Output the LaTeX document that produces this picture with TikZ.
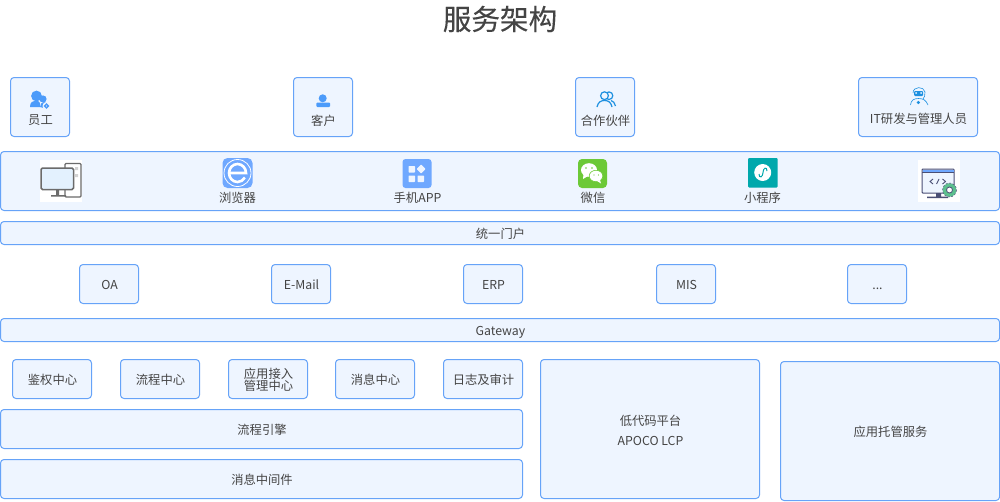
\documentclass[tikz,border=0pt]{standalone}
\usepackage{fontspec}
\setmainfont{Noto Sans CJK SC}
\newfontfamily\titlefont[FakeBold=0.25]{Noto Sans CJK SC}
\usetikzlibrary{positioning}

\definecolor{boxline}{HTML}{66A3F8}
\definecolor{boxfill}{HTML}{EEF5FF}
\definecolor{txt}{HTML}{444444}
\definecolor{iconblue}{HTML}{4C9BFA}
\definecolor{skyblue}{HTML}{1E90E0}
\definecolor{softblue}{HTML}{6FA8FF}
\definecolor{wechat}{HTML}{6CC937}
\definecolor{miniapp}{HTML}{00A8AC}
\definecolor{pcgray}{HTML}{6B6B6B}
\definecolor{pcscreen}{HTML}{E3F1FE}
\definecolor{devline}{HTML}{4A4F75}
\definecolor{devgear}{HTML}{5CBF8E}

\tikzset{
  box/.style={draw=boxline,fill=boxfill,rounded corners=3.5pt,line width=1pt,
    text=txt,font=\fontsize{12.3}{13}\selectfont,inner sep=0pt,outer sep=0pt,
    text height=11.4pt,text depth=0pt,execute at begin node=\hspace*{1pt}},
  user/.style={box,minimum width=59pt,minimum height=59pt},
  sys/.style={box,minimum width=59pt,minimum height=39pt},
  center/.style={box,minimum width=79pt,minimum height=39pt},
  bar/.style={box,minimum width=999pt,minimum height=23pt},
  lbl/.style={text=txt,font=\fontsize{12.3}{13}\selectfont,inner sep=0pt,align=center},
}

\begin{document}
\begin{tikzpicture}[x=1pt,y=-1pt,node distance=132pt]
    \useasboundingbox (0,0) rectangle (1000,501);

    \node[font=\fontsize{28.6}{30}\titlefont,text=txt,inner sep=0pt] (title) at (500,19) {服务架构};

    % users
    \node[user] (staff)   at (40,107)  {};
    \node[user] (client)  at (323,107) {};
    \node[user] (partner) at (605,107) {};
    \node[user,minimum width=119pt] (itstaff) at (918,107) {};
    \node[lbl] (stafftxt)   at (40.5,120.5)  {员工};
    \node[lbl] (clienttxt)  at (323.5,120.5) {客户};
    \node[lbl] (partnertxt) at (605.5,120.5) {合作伙伴};
    \node[lbl] (ittxt)      at (918.5,118.5) {IT研发与管理人员};

    % terminals
    \node[bar,minimum height=59pt] (terminal) at (500,181) {};
    \node[lbl] (browser) at (237.5,197.5) {浏览器};
    \node[lbl] (mobile)  at (417.5,197.5) {手机APP};
    \node[lbl] (weixin)  at (593,197.5) {微信};
    \node[lbl] (mini)    at (762.5,197.5) {小程序};

    \node[bar] (portal) at (500,233) {统一门户};

    % systems
    \node[sys] (oa)   at (109,284) {OA};
    \node[sys] (mail) at (301,284) {E-Mail};
    \node[sys] (erp)  at (493,284) {ERP};
    \node[sys] (mis)  at (686,284) {MIS};
    \node[sys] (more) at (877,284) {...};

    \node[bar] (gateway) at (500,330) {Gateway};

    % centers
    \node[center] (auth) at (52,379) {鉴权中心};
    \node[center] (flow) at (160,379) {流程中心};
    \node[center] (access) at (268,379) {};
    \node[lbl,font=\fontsize{12.3}{12}\selectfont] (accesstxt) at (268.5,380) {应用接入\\管理中心};
    \node[center] (msg)  at (375,379) {消息中心};
    \node[center] (log)  at (483,379) {日志及审计};
    \node[box,minimum width=522pt,minimum height=39pt] (engine) at (261.5,429) {流程引擎};
    \node[box,minimum width=522pt,minimum height=39pt] (mq)     at (261.5,479) {消息中间件};
    \node[box,minimum width=219pt,minimum height=139pt] (lcp) at (650,429) {};
    \node[lbl,font=\fontsize{12.3}{20}\selectfont] (lcptxt) at (650.5,430.5) {低代码平台\\APOCO LCP};
    \node[box,minimum width=219pt,minimum height=139pt] (host) at (890,431) {应用托管服务};

    % icon of staff
    \fill[iconblue] (36.5,96) circle (5.4);
    \fill[iconblue] (30,107) .. controls (30,102) and (33,100.5) .. (36,100.5) .. controls (39,100.5) and (41,103) .. (40,107) -- cycle;
    \fill[iconblue] (43,99) circle (3.6);
    \fill[iconblue] (40,107) .. controls (40,104) and (42,102) .. (44,102) -- (47,103) -- (44,108) -- cycle;
    \fill[boxfill] (46.5,106) circle (4);
    \draw[iconblue,line width=1.3pt] (46.5,106) circle (1.9);

    % icon of client
    \fill[iconblue] (322.7,98.3) circle (4);
    \fill[iconblue,rounded corners=1pt] (316.3,107) -- (316.3,102.5) -- (330,102.5) -- (330,107) -- cycle;

    % icon of partner
    \draw[skyblue,line width=1.2pt] (609,95.7) circle (3.8);
    \draw[fill=boxfill,draw=skyblue,line width=1.2pt] (604.5,95.7) circle (3.9);
    \draw[skyblue,line width=1.2pt] (597,107) .. controls (598,102) and (601,100.5) .. (604.5,100.5) .. controls (608,100.5) and (611,102) .. (612,107);
    \draw[skyblue,line width=1.2pt] (611,100.5) .. controls (613,101) and (615,103) .. (615.5,106);

    % icon of it staff
    \draw[skyblue,line width=.6pt] (910.5,105) .. controls (911,100) and (914,98.5) .. (918.5,98.5) .. controls (923,98.5) and (926,100) .. (928,105);
    \draw[skyblue,line width=.6pt] (913,93) .. controls (913,86) and (924,86) .. (925,92) .. controls (925.5,95) and (924,98) .. (923,99);
    \fill[skyblue,rounded corners=1pt] (914,91) rectangle (923,96);
    \fill[boxfill] (916,93) circle (1) (921,93) circle (1);
    \fill[skyblue] (918.3,102.5) circle (1.7);

    % monitor
    \fill[white] (40,160) rectangle (82,202);
    \draw[fill=white,draw=pcgray,line width=1.3pt,rounded corners=1pt] (65,163.5) rectangle (81,197);
    \fill[gray!35] (75,167) rectangle (78,170) (75,174) rectangle (78,177);
    \fill[pcgray] (56,190) rectangle (59,195) (51,195) rectangle (66,196.5);
    \draw[fill=pcscreen,draw=pcgray,line width=1.5pt,rounded corners=1.5pt] (41,168) rectangle (73.5,189.5);

    % browser
    \fill[softblue,rounded corners=5pt] (222.5,158) rectangle (252.5,188);
    \draw[white,line width=.8pt] (237.5,173) circle (13.5);
    \draw[white,line width=2.6pt] (229,173) -- (246,173) arc (0:-330:8.5 and 9);

    % mobile app
    \fill[softblue,rounded corners=3pt] (402.5,159) rectangle (431.5,188);
    \fill[boxfill,rounded corners=.7pt] (408.5,166) rectangle (415,172.5)
      (408.5,175.5) rectangle (415,182) (417.5,175.5) rectangle (424,182);
    \fill[boxfill,rounded corners=.7pt] (421,164.5) -- (425.5,169) -- (421,173.5) -- (416.5,169) -- cycle;

    % wechat
    \fill[wechat,rounded corners=4pt] (578,159) rectangle (607,188);
    \fill[white] (589,170) ellipse (8 and 6.8);
    \fill[white] (583.5,174) -- (583,179) -- (588,176) -- cycle;
    \fill[white,draw=wechat,line width=.6pt] (596,176) ellipse (6.8 and 5.7);
    \fill[white] (600,180) -- (601,183.5) -- (597,181) -- cycle;
    \fill[wechat] (586,168) circle (.9) (592,168) circle (.9) (594,175) circle (.7) (598.5,175) circle (.7);

    % mini program
    \fill[miniapp,rounded corners=1pt] (748,158) rectangle (777.5,187.5);
    \fill[white] (762.7,172.5) circle (8.5);
    \draw[miniapp,line width=1pt] (759,174) .. controls (759,179) and (763,177) .. (763,172.5) .. controls (763,168) and (767,166) .. (767,171);

    % developer screen
    \fill[white] (918,160) rectangle (960,202);
    \draw[fill=boxfill,draw=devline,line width=1pt,rounded corners=.8pt] (922,169) rectangle (954,193);
    \fill[softblue] (922.5,169.5) rectangle (953.5,172.5);
    \draw[devline,line width=1pt] (922,172.5) -- (954,172.5);
    \fill[devline] (936,193) rectangle (941,196.5) (927,196.5) rectangle (948,198);
    \draw[devline,line width=.9pt] (933,179) -- (930,181.5) -- (933,184) (936.5,184) -- (939,179) (942.5,179) -- (945.5,181.5) -- (942.5,184);
    \fill[devgear] (949.5,190) circle (6.8);
    \draw[fill=white,draw=devline,line width=.8pt] (949.5,190) circle (3);
    \draw[devline,line width=.5pt,dash pattern=on 2pt off 1.6pt] (949.5,190) circle (7);
\end{tikzpicture}
\end{document}
